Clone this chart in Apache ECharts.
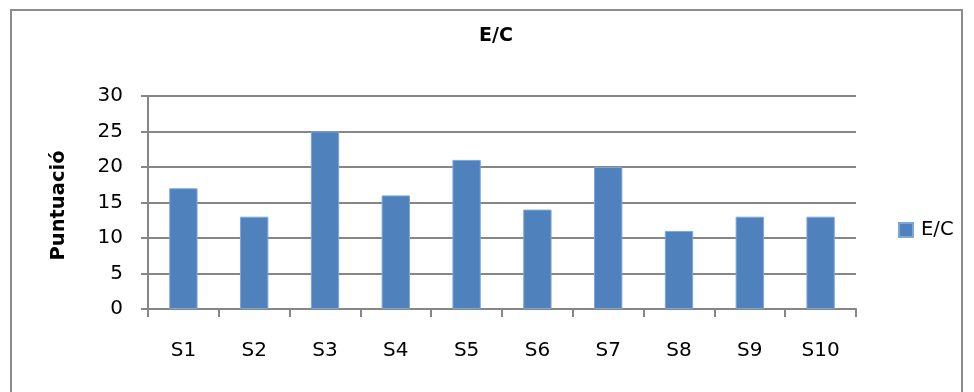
<!DOCTYPE html>
<html>
<head>
<meta charset="utf-8">
<script src="https://cdn.jsdelivr.net/npm/echarts@6/dist/echarts.min.js"></script>
<style>
  html, body { margin: 0; padding: 0; background: #fff; }
  #frame { position: absolute; left: 10px; top: 9px; width: 953px; height: 400px; border: 2px solid #8c8c8c; box-sizing: border-box; }
  #chart { position: absolute; left: 0; top: 0; width: 974px; height: 392px; }
</style>
</head>
<body>
<div id="frame"></div>
<div id="chart"></div>
<script>
const categories = ['S1', 'S2', 'S3', 'S4', 'S5', 'S6', 'S7', 'S8', 'S9', 'S10'];
const scores = [17, 13, 25, 16, 21, 14, 20, 11, 13, 13];
const seriesName = 'E/C';
const yTicks = { min: 0, max: 30, interval: 5 };

const font = '"DejaVu Sans", sans-serif';
const chart = echarts.init(document.getElementById('chart'), null, { renderer: 'canvas' });
chart.setOption({
  animation: false,
  title: {
    text: 'E/C',
    left: 479,
    top: 27,
    padding: 0,
    textStyle: { fontFamily: font, fontSize: 19, fontWeight: 'bold', color: '#000' }
  },
  legend: {
    data: [seriesName],
    left: 898,
    top: 220,
    padding: 0,
    itemWidth: 14,
    itemHeight: 14,
    itemGap: 6,
    icon: 'rect',
    textStyle: { fontFamily: font, fontSize: 19.5, color: '#000', padding: [0, 0, 0, 3] }
  },
  grid: { left: 148, right: 118, top: 96, bottom: 83, containLabel: false },
  xAxis: {
    type: 'category',
    data: categories,
    axisLine: { lineStyle: { color: '#868686', width: 2 } },
    axisTick: { show: true, length: 8, lineStyle: { color: '#868686', width: 2 } },
    axisLabel: { margin: 32, fontFamily: font, fontSize: 20, color: '#000' }
  },
  yAxis: {
    type: 'value',
    min: yTicks.min,
    max: yTicks.max,
    interval: yTicks.interval,
    name: 'Puntuació',
    nameLocation: 'middle',
    nameGap: 79,
    nameTextStyle: { fontFamily: font, fontSize: 19.5, fontWeight: 'bold', color: '#000', padding: [0, 6, 0, 0] },
    axisLine: { show: true, lineStyle: { color: '#868686', width: 2 } },
    axisTick: { show: true, length: 7, lineStyle: { color: '#868686', width: 2 } },
    axisLabel: { margin: 25, fontFamily: font, fontSize: 20, color: '#000' },
    splitLine: { lineStyle: { color: '#868686', width: 2 } }
  },
  series: [{
    name: seriesName,
    type: 'bar',
    data: scores,
    barWidth: '40%',
    itemStyle: { color: '#4f81bd', borderColor: '#7ea6d6', borderWidth: 1 }
  }]
});
</script>
</body>
</html>
